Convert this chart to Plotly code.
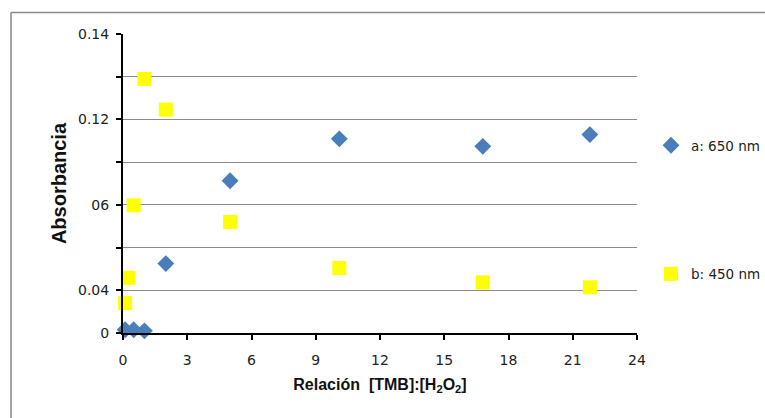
import plotly.graph_objects as go

# Data
x_a = [0.1, 0.5, 1.0, 2.0, 5.0, 10.1, 16.8, 21.8]
y_a = [0.0015, 0.0015, 0.001, 0.0325, 0.0713, 0.0909, 0.0874, 0.0929]

x_b = [0.1, 0.25, 0.5, 1.0, 2.0, 5.0, 10.1, 16.8, 21.8]
y_b = [0.014, 0.0258, 0.0598, 0.119, 0.1046, 0.052, 0.0304, 0.0237, 0.0214]

series_names = ["a: 650 nm", "b: 450 nm"]

x_ticks = [0, 3, 6, 9, 12, 15, 18, 21, 24]
y_tick_vals = [0, 0.02, 0.06, 0.10, 0.14]
y_tick_text = ["0", "0.04", "06", "0.12", "0.14"]

FONT = "DejaVu Sans"

fig = go.Figure()
fig.add_trace(go.Scatter(
    x=x_a, y=y_a, mode="markers", name=series_names[0], legendgroup="a",
    marker=dict(symbol="diamond", size=13, color="#4A7EBB",
                line=dict(width=0)),
    cliponaxis=False,
))
fig.add_trace(go.Scatter(
    x=x_b, y=y_b, mode="markers", name=series_names[1], legendgroup="b",
    marker=dict(symbol="square", size=14, color="#FFFF00",
                line=dict(width=0)),
    cliponaxis=False,
))

grid_col = "#8c8c8c"

fig.update_layout(
    width=765, height=418,
    margin=dict(l=123, r=128, t=34, b=85, autoexpand=False),
    paper_bgcolor="white", plot_bgcolor="white",
    font=dict(family=FONT, size=13, color="#222222"),
    showlegend=True,
    legend=dict(
        xref="container", yref="container",
        x=651 / 765, y=1 - 130 / 418, xanchor="left", yanchor="top",
        traceorder="grouped", tracegroupgap=108,
        font=dict(family=FONT, size=13.5, color="#222222"),
        itemwidth=30, bgcolor="rgba(0,0,0,0)",
    ),
    xaxis=dict(
        range=[0, 24], tickvals=x_ticks, ticktext=[str(v) for v in x_ticks],
        showgrid=False, zeroline=False, automargin=False,
        showline=True, linecolor="black", linewidth=2,
        ticks="outside", ticklen=5, tickwidth=2, tickcolor="black",
        tickfont=dict(family=FONT, size=14, color="#222222"),
        ticklabelstandoff=8,
        title=dict(text="<b>Relación  [TMB]:[H<sub>2</sub>O<sub>2</sub>]</b>",
                   font=dict(family="Liberation Sans", size=16, color="#111111"),
                   standoff=12),
    ),
    yaxis=dict(
        range=[0, 0.14], tickvals=y_tick_vals, ticktext=y_tick_text,
        showgrid=True, gridcolor=grid_col, gridwidth=1,
        zeroline=False, automargin=False,
        showline=True, linecolor="black", linewidth=2,
        ticks="outside", ticklen=5, tickwidth=2, tickcolor="black",
        tickfont=dict(family=FONT, size=14, color="#222222"),
        ticklabelstandoff=4,
        minor=dict(dtick=0.02, tick0=0, ticks="outside", ticklen=5,
                   tickwidth=2, tickcolor="black",
                   showgrid=True, gridcolor=grid_col, gridwidth=1),
        title=dict(text="<b>Absorbancia</b>",
                   font=dict(family="Liberation Sans", size=20, color="#111111"),
                   standoff=6),
    ),
    shapes=[
        dict(type="line", xref="paper", yref="paper",
             x0=(11 - 123) / 514, x1=1.3, y0=(333 - 12.5) / 299, y1=(333 - 12.5) / 299,
             line=dict(color="#8a8a8a", width=1.5)),
        dict(type="line", xref="paper", yref="paper",
             x0=(11 - 123) / 514, x1=(11 - 123) / 514, y0=(333 - 12.5) / 299, y1=-0.4,
             line=dict(color="#8a8a8a", width=1.5)),
    ],
)

fig.write_html("out.html",
               config={"displayModeBar": False},
               post_script="document.body.style.margin='0';document.body.style.overflow='hidden';")
